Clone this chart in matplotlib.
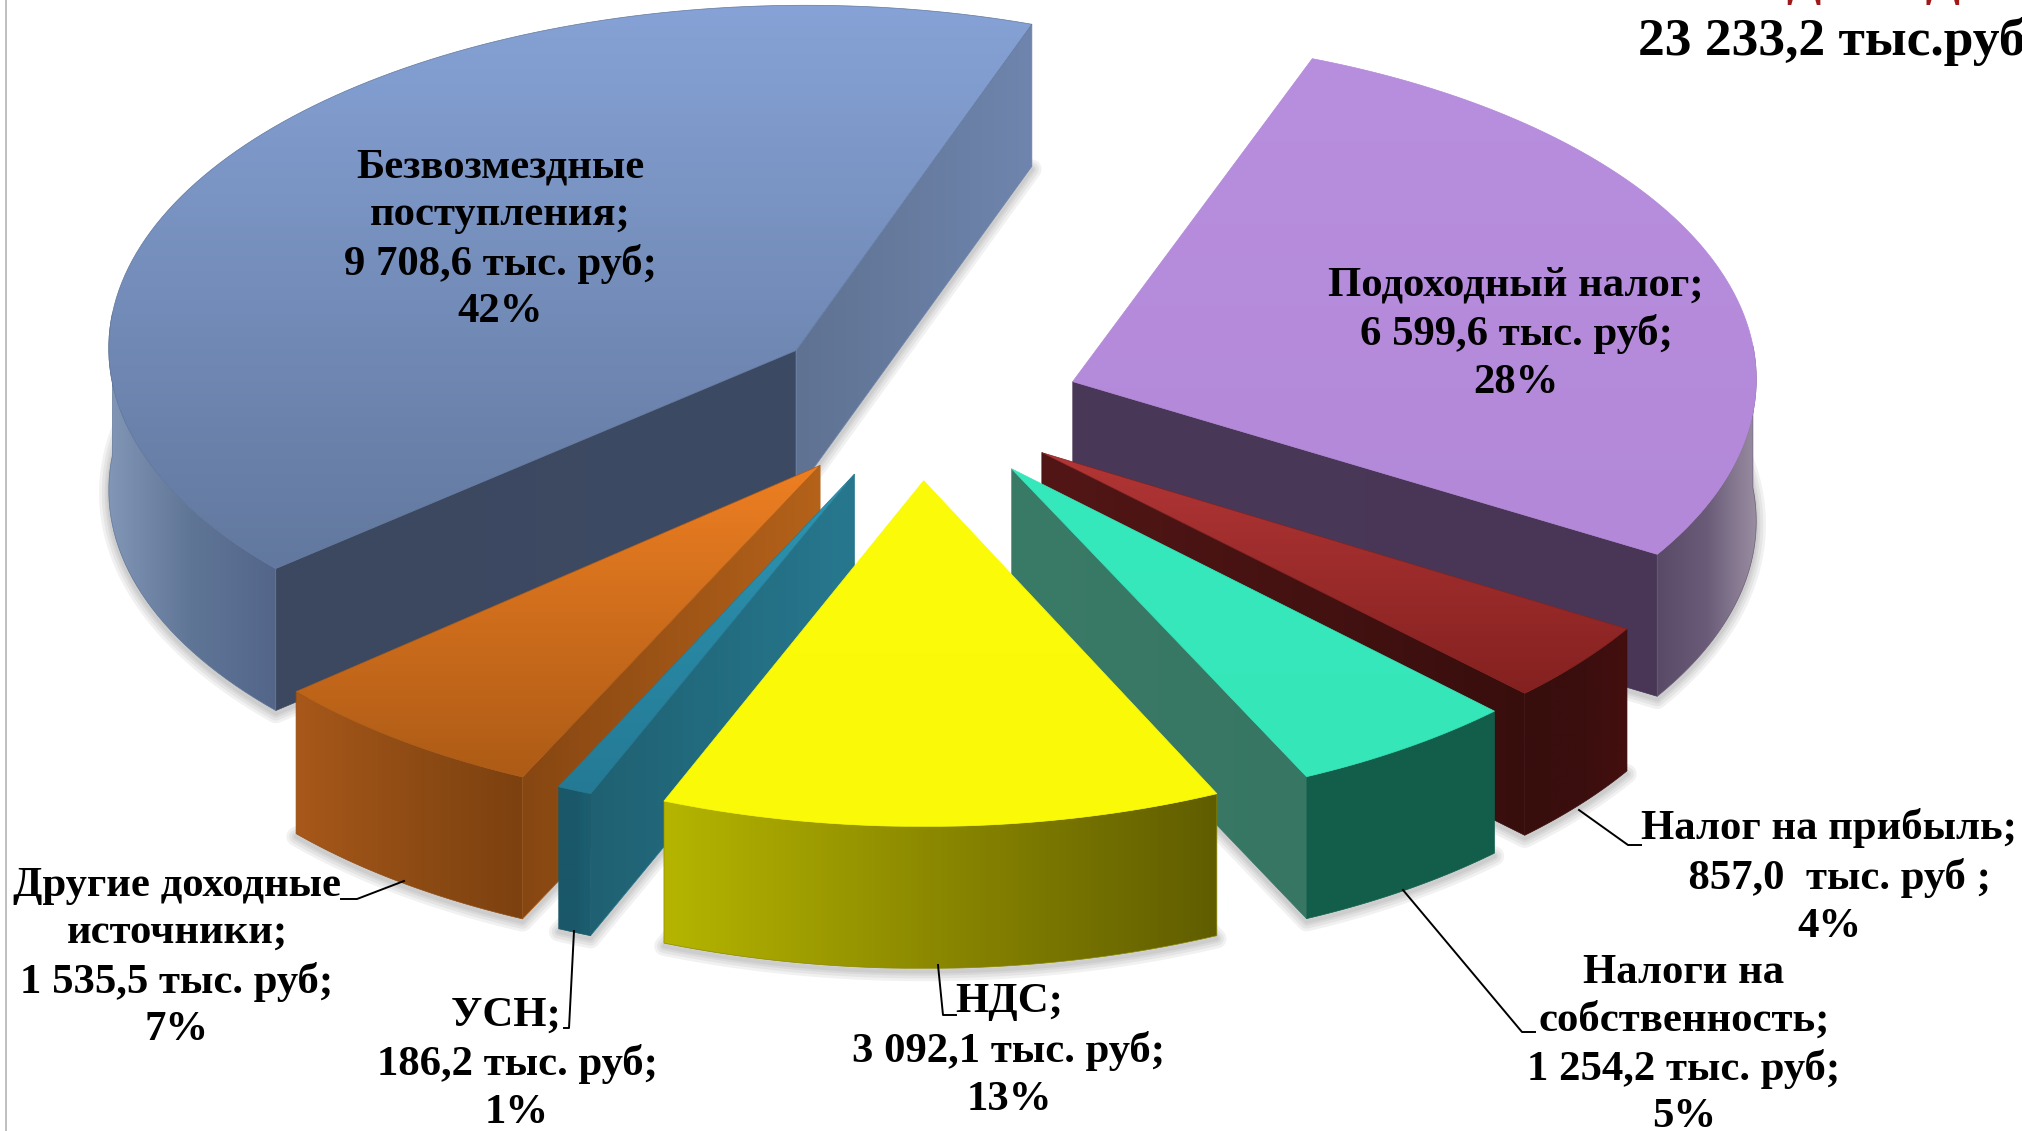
import numpy as np
import matplotlib
matplotlib.use('Agg')
import matplotlib.pyplot as plt
from matplotlib.colors import LinearSegmentedColormap
from matplotlib.patches import Polygon

# data
names = ['Подоходный налог', 'Налог на прибыль', 'Налоги на собственность', 'НДС',
         'УСН', 'Другие доходные источники', 'Безвозмездные поступления']
values = [6599.6, 857.0, 1254.2, 3092.1, 186.2, 1535.5, 9708.6]
total_label = '23 233,2 тыс.руб'

label_lines = [
    ['Подоходный налог;', '6 599,6 тыс. руб;', '28%'],
    ['Налог на прибыль;', '  857,0  тыс. руб ;', '4%'],
    ['Налоги на', 'собственность;', '1 254,2 тыс. руб;', '5%'],
    ['НДС;', '3 092,1 тыс. руб;', '13%'],
    ['УСН;  ', '186,2 тыс. руб;', '1%'],
    ['Другие доходные', 'источники;', '1 535,5 тыс. руб;', '7%'],
    ['Безвозмездные', 'поступления;', '9 708,6 тыс. руб;', '42%'],
]

# layout, all in pixels of the 2022x1131 picture
W, H = 2022, 1131
CX, CY = 929, 402
R = 684
K = 0.5
DEPTH = 142
PERSP = 0.07
START = 23.0
RIM_SHIFT = -31
explode = [150, 150, 155, 155, 160, 165, 170]
radius_scale = [1, 0.99, 0.99, 1, 1, 1, 1.012]
# the drawn pie is not a clean ellipse, the front left part looks turned a little
warp_at = [23, 137, 157, 205, 232, 300, 383]
warp_by = [0, 0, -1.3, -5.3, -7.0, -5, -2.2]
label_pos = [(1516, 334), (1829, 877), (1684, 1045), (1009, 1051),
             (517, 1064), (177, 958), (500, 240)]
leaders = [
    None,
    [(1579, 810), (1628, 845), (1641, 845)],
    [(1403, 890), (1522, 1032), (1535, 1032)],
    [(938, 965), (943, 1015), (956, 1015)],
    [(574, 931), (569, 1028), (564, 1028)],
    [(404, 881), (357, 899), (341, 899)],
    None,
]

# top start/end, radial wall left/right, rim stops
top_colors = [('#b88ede', '#b388d8'), ('#b33636', '#842120'), ('#36e9bc', '#35e6b9'),
              ('#fbfb0a', '#fafa08'), ('#2d95b2', '#247a95'), ('#ee7f22', '#ad5b16'),
              ('#86a2d6', '#62789e')]
wall_colors = [('#4a3858', '#493656'), ('#531616', '#380e0d'), ('#3a7b67', '#367663'),
               ('#3a7b67', '#367663'), ('#1f6172', '#27788f'), ('#874712', '#b5621a'),
               ('#3c485f', '#3d4a64')]
inner_colors = [None, None, None, None, None, None, ('#5f7292', '#6f85ad')]
rim_colors = [['#594a68', '#6a5c78', '#9a8ea2'], ['#380e0d', '#3a0e0e', '#440f0e'],
              ['#125e4b', '#135f4c', '#125e4b'], ['#b5b500', '#8a8700', '#605d00'],
              ['#1a5869', '#1a5869', '#1c5f72'], ['#a8581a', '#8f4c14', '#7c4110'],
              ['#8296b6', '#5f7596', '#53668a']]


def project(u, v):
    s = 1 - PERSP * np.asarray(v) / R
    return CX + np.asarray(u) * s, CY - K * np.asarray(v) * s


def disk(angle):
    a = np.radians(angle)
    return np.sin(a), np.cos(a)


def gradient_poly(ax, pts, stops, vertical=False, zorder=1):
    pts = np.asarray(pts)
    x0, y0 = pts.min(axis=0)
    x1, y1 = pts.max(axis=0)
    if x1 - x0 < 1 or y1 - y0 < 1:
        return
    cmap = LinearSegmentedColormap.from_list('g', stops)
    grad = np.linspace(0, 1, 256)
    grad = grad[:, None] if vertical else grad[None, :]
    im = ax.imshow(grad, cmap=cmap, extent=(x0, x1, y1, y0), aspect='auto',
                   origin='upper', zorder=zorder, interpolation='bilinear')
    patch = Polygon(pts, closed=True, transform=ax.transData, fc='none', ec='none')
    ax.add_patch(patch)
    im.set_clip_path(patch)
    ax.add_patch(Polygon(pts, closed=True, fc='none', ec=stops[len(stops) // 2], lw=0.5, zorder=zorder))


def draw_slice(ax, a0, a1, i, depth):
    z = depth * 10
    eu, ev = disk((a0 + a1) / 2)
    eu, ev = eu * explode[i], ev * explode[i]
    ang = np.linspace(a0, a1, 120)
    # apex stays on the true bisector, only the arc gets warped
    du, dv = disk(ang + np.interp(ang, warp_at, warp_by))
    rad = R * radius_scale[i]
    ax_x, ax_y = project(eu, ev)
    tx, ty = project(eu + rad * du, ev + rad * dv)
    ty = ty + RIM_SHIFT
    top = np.column_stack([np.r_[ax_x, tx], np.r_[ax_y, ty]])

    # soft shadow under the bottom edge of the solid
    low_x = np.r_[ax_x, tx, ax_x]
    low_y = np.r_[ax_y, ty, ax_y] + DEPTH + 3
    for lw in (14, 10, 6, 3):
        ax.plot(low_x, low_y, color='#404040', alpha=0.07, lw=lw, zorder=z,
                solid_joinstyle='round')

    # radial walls, only those that face the viewer
    mid = len(ang) // 2
    for k, idx in enumerate((0, len(ang) - 1)):
        ex, ey = tx[idx], ty[idx]
        dx, dy = ex - ax_x, ey - ax_y
        side_in = dx * (ty[mid] - ax_y) - dy * (tx[mid] - ax_x)
        if dx * DEPTH * side_in < 0:
            wall = [(ax_x, ax_y), (ex, ey), (ex, ey + DEPTH), (ax_x, ax_y + DEPTH)]
            cols = wall_colors[i]
            if k == 1 and inner_colors[i] is not None:
                cols = inner_colors[i]
            gradient_poly(ax, wall, list(cols), zorder=z + 1)

    # outer rim, front half of the circle only
    front = dv < 0.02
    if front.any():
        rx, ry = tx[front], ty[front]
        rim = np.vstack([np.column_stack([rx, ry]), np.column_stack([rx, ry + DEPTH])[::-1]])
        gradient_poly(ax, rim, rim_colors[i], zorder=z + 2)

    gradient_poly(ax, top, list(top_colors[i]), vertical=True, zorder=z + 3)


def main():
    plt.rcParams['font.family'] = ['Liberation Serif', 'DejaVu Serif']
    fig = plt.figure(figsize=(W / 100, H / 100), dpi=100, facecolor='white')
    ax = fig.add_axes([0, 0, 1, 1])

    shares = np.array(values) / sum(values) * 360
    starts = START + np.r_[0, np.cumsum(shares)[:-1]]

    # far slices first, near ones over them
    order = [6, 0, 1, 5, 4, 2, 3]
    for depth, i in enumerate(order):
        draw_slice(ax, starts[i], starts[i] + shares[i], i, depth)

    for i, lines in enumerate(label_lines):
        ax.text(label_pos[i][0], label_pos[i][1], '\n'.join(lines), ha='center', va='center',
                fontsize=30.8, fontweight='bold', color='black', linespacing=1.32, zorder=200)
        if leaders[i] is not None:
            xs, ys = zip(*leaders[i])
            ax.plot(xs, ys, color='black', lw=1.4, zorder=150)

    ax.text(1638, 41, total_label, ha='left', va='center', fontsize=38.5, fontweight='bold',
            color='black', zorder=200)
    ax.text(1786, -6, 'ДОХОДЫ', ha='left', va='baseline', fontsize=36, fontweight='bold',
            color='#a01818', zorder=200, clip_on=True)
    ax.plot([5.5, 5.5], [0, H], color='#b4b4b4', lw=1.2, zorder=0)

    ax.set_xlim(0, W)
    ax.set_ylim(H, 0)
    ax.axis('off')
    fig.savefig('out.png', dpi=100, facecolor='white')


if __name__ == '__main__':
    main()
